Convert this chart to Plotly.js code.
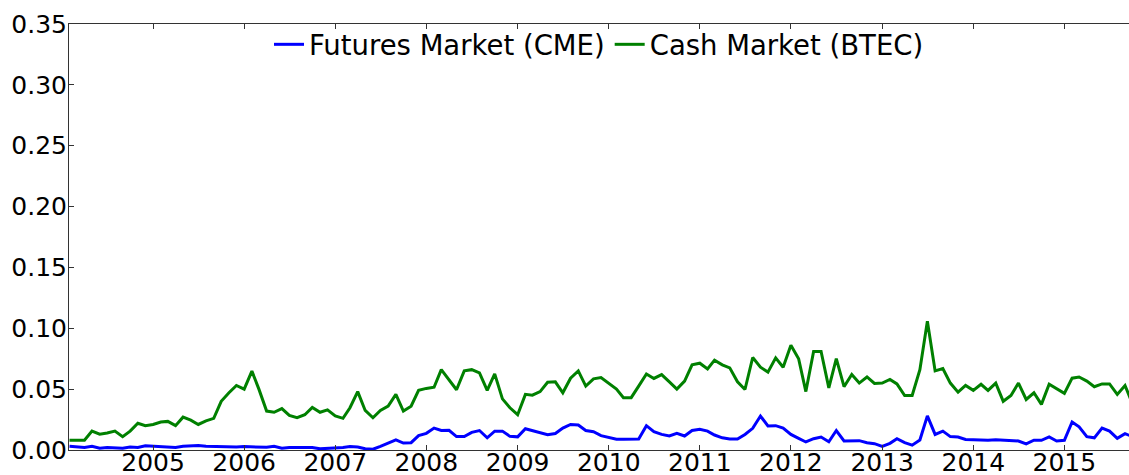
<!DOCTYPE html>
<html>
<head>
<meta charset="utf-8">
<script src="https://cdn.plot.ly/plotly-3.0.1.min.js"></script>
<style>html,body{margin:0;padding:0;background:#fff;}#chart{width:1129px;height:475px;}</style>
</head>
<body>
<div id="chart"></div>
<script>
// Monthly observations (month-end, plotted at start of following month)
const months = [
"2004-02","2004-03","2004-04","2004-05","2004-06","2004-07","2004-08","2004-09","2004-10","2004-11","2004-12",
"2005-01","2005-02","2005-03","2005-04","2005-05","2005-06","2005-07","2005-08","2005-09","2005-10","2005-11","2005-12",
"2006-01","2006-02","2006-03","2006-04","2006-05","2006-06","2006-07","2006-08","2006-09","2006-10","2006-11","2006-12",
"2007-01","2007-02","2007-03","2007-04","2007-05","2007-06","2007-07","2007-08","2007-09","2007-10","2007-11","2007-12",
"2008-01","2008-02","2008-03","2008-04","2008-05","2008-06","2008-07","2008-08","2008-09","2008-10","2008-11","2008-12",
"2009-01","2009-02","2009-03","2009-04","2009-05","2009-06","2009-07","2009-08","2009-09","2009-10","2009-11","2009-12",
"2010-01","2010-02","2010-03","2010-04","2010-05","2010-06","2010-07","2010-08","2010-09","2010-10","2010-11","2010-12",
"2011-01","2011-02","2011-03","2011-04","2011-05","2011-06","2011-07","2011-08","2011-09","2011-10","2011-11","2011-12",
"2012-01","2012-02","2012-03","2012-04","2012-05","2012-06","2012-07","2012-08","2012-09","2012-10","2012-11","2012-12",
"2013-01","2013-02","2013-03","2013-04","2013-05","2013-06","2013-07","2013-08","2013-09","2013-10","2013-11","2013-12",
"2014-01","2014-02","2014-03","2014-04","2014-05","2014-06","2014-07","2014-08","2014-09","2014-10","2014-11","2014-12",
"2015-01","2015-02","2015-03","2015-04","2015-05","2015-06","2015-07","2015-08","2015-09","2015-10"
];

const futuresCME = [
0.003,0.0025,0.002,0.003,0.0015,0.002,0.002,0.0015,0.0025,0.002,0.0035,
0.003,0.003,0.0025,0.002,0.003,0.0033,0.0037,0.003,0.0028,0.0028,0.0028,0.0025,
0.0028,0.0025,0.0022,0.0022,0.003,0.0015,0.002,0.002,0.0018,0.002,0.001,0.0012,
0.0018,0.002,0.0028,0.0025,0.001,0.0006,0.003,0.0055,0.0083,0.0057,0.006,0.0118,
0.0137,0.018,0.016,0.0162,0.011,0.011,0.0145,0.016,0.010,0.0155,0.0155,0.0112,
0.0108,0.0175,0.016,0.0138,0.0125,0.0135,0.018,0.021,0.0205,0.016,0.015,0.0118,
0.010,0.0088,0.0088,0.0092,0.009,0.020,0.015,0.0128,0.0115,0.0137,0.0115,0.016,
0.017,0.0155,0.0123,0.010,0.009,0.009,0.0128,0.0178,0.0279,0.0197,0.020,0.018,
0.0128,0.0096,0.0066,0.0093,0.0107,0.0068,0.016,0.0074,0.0077,0.0077,0.006,0.0052,
0.003,0.0055,0.0093,0.006,0.004,0.0082,0.028,0.0128,0.0155,0.011,0.0107,0.0087,
0.0085,0.008,0.008,0.0085,0.008,0.0074,0.0074,0.005,0.008,0.008,0.0107,0.0074,
0.008,0.023,0.019,0.011,0.010,0.018,0.0155,0.0096,0.0134,0.011
];

const cashBTEC = [
0.008,0.008,0.008,0.0155,0.013,0.014,0.0155,0.011,0.0155,0.022,0.020,
0.021,0.023,0.0235,0.020,0.027,0.0245,0.021,0.024,0.026,0.040,0.047,0.053,
0.050,0.0648,0.050,0.032,0.031,0.034,0.0284,0.0265,0.029,0.035,0.031,0.033,
0.028,0.026,0.0347,0.048,0.0325,0.0265,0.0325,0.036,0.0457,0.032,0.036,0.049,
0.0506,0.0516,0.066,0.058,0.0495,0.065,0.066,0.0634,0.049,0.0625,0.042,0.0347,
0.029,0.0457,0.045,0.048,0.0557,0.056,0.047,0.059,0.065,0.0525,0.0585,0.0595,
0.055,0.050,0.043,0.043,0.0525,0.0625,0.0588,0.062,0.056,0.050,0.0566,0.070,
0.0713,0.0666,0.0738,0.070,0.0675,0.056,0.0497,0.076,0.068,0.064,0.0757,0.068,
0.086,0.075,0.048,0.081,0.081,0.051,0.075,0.052,0.062,0.055,0.060,0.0547,
0.055,0.058,0.0543,0.0448,0.0448,0.066,0.1057,0.065,0.067,0.055,0.0475,0.053,
0.049,0.054,0.049,0.055,0.040,0.0448,0.055,0.0415,0.047,0.0375,0.054,0.0506,
0.0465,0.059,0.060,0.0566,0.052,0.0543,0.0543,0.0457,0.053,0.038
];

const seriesNames = ["Futures Market (CME)", "Cash Market (BTEC)"];
const yTickVals = [0, 0.05, 0.10, 0.15, 0.20, 0.25, 0.30, 0.35];

const FONT = "DejaVu Sans, Verdana, sans-serif";
const axisColor = "#333";

const traces = [
  {x: months, y: futuresCME, name: seriesNames[0], type: "scatter", mode: "lines",
   line: {color: "#0000ff", width: 3}},
  {x: months, y: cashBTEC, name: seriesNames[1], type: "scatter", mode: "lines",
   line: {color: "#008000", width: 3}}
];

const layout = {
  width: 1129, height: 475,
  margin: {l: 69, r: 0, t: 24, b: 25, pad: 0},
  paper_bgcolor: "#fff", plot_bgcolor: "#fff",
  font: {family: FONT, size: 25, color: "#000"},
  showlegend: true,
  legend: {orientation: "h", x: 0.5, xanchor: "center", y: 0.952, yanchor: "middle",
           bgcolor: "rgba(0,0,0,0)", font: {family: FONT, size: 27.5, color: "#000"},
           itemwidth: 30, tracegroupgap: 0},
  xaxis: {type: "date", range: ["2004-01-30", "2015-09-17"],
          showgrid: false, zeroline: false, showline: true, linecolor: axisColor, linewidth: 1,
          mirror: "ticks", ticks: "inside", ticklen: 5, tickcolor: axisColor, tickwidth: 1,
          tick0: "2005-01-01", dtick: "M12", tickformat: "%Y", ticklabelstandoff: -10,
          tickfont: {family: FONT, size: 25, color: "#000"}, fixedrange: true},
  yaxis: {range: [0, 0.35], tickvals: yTickVals, tickformat: ".2f", ticklabelstandoff: -4,
          showgrid: false, zeroline: false, showline: true, linecolor: axisColor, linewidth: 1,
          ticks: "inside", ticklen: 5, tickcolor: axisColor, tickwidth: 1,
          tickfont: {family: FONT, size: 25, color: "#000"}, fixedrange: true}
};

Plotly.newPlot("chart", traces, layout, {displayModeBar: false, staticPlot: true});
</script>
</body>
</html>
